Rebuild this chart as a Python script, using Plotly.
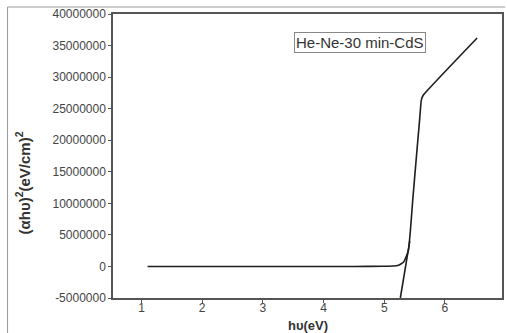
import plotly.graph_objects as go

# Measured curve: photon energy (eV) vs (alpha h nu)^2 ((eV/cm)^2)
curve_x = [1.10, 1.5, 2.0, 2.5, 3.0, 3.5, 4.0, 4.5, 5.0, 5.15, 5.234, 5.28, 5.316,
           5.357, 5.398, 5.431, 5.469, 5.539, 5.582, 5.610, 5.644, 6.53]
curve_y = [0, 0, 0, 0, 0, 0, 0, 0, 20000, 60000, 190000, 430000, 670000,
           1460000, 2570000, 5740000, 10500000, 18430000, 23190000, 26360000, 27160000, 36200000]

# Linear extrapolation line to the energy axis
fit_x = [5.265, 5.42]
fit_y = [-5000000, 4000000]

legend_text = "He-Ne-30 min-CdS"
x_title = "h\u03c5(eV)"
y_title = "(\u03b1h\u03c5)<sup>2</sup>(eV/cm)<sup>2</sup>"
y_ticks = [-5000000, 0, 5000000, 10000000, 15000000, 20000000, 25000000, 30000000, 35000000, 40000000]
y_tick_text = ["-5000000", "0", "5000000", "10000000", "15000000", "20000000",
               "25000000", "30000000", "35000000", "40000000"]
x_ticks = [1, 2, 3, 4, 5, 6]

FONT = "Arial, Liberation Sans, sans-serif"
LINE = "#1e1e1e"

fig = go.Figure()
fig.add_trace(go.Scatter(x=curve_x, y=curve_y, mode="lines",
                         line=dict(color=LINE, width=1.6, shape="spline", smoothing=0.3),
                         showlegend=False, hoverinfo="skip"))
fig.add_trace(go.Scatter(x=fit_x, y=fit_y, mode="lines",
                         line=dict(color=LINE, width=1.6),
                         showlegend=False, hoverinfo="skip"))

L, R, T, B = 113, 3, 14, 35
W, H = 507, 333
pw, ph = W - L - R, H - T - B

def px(x):
    return (x - L) / pw

def py(y):
    return (H - B - y) / ph

fig.update_layout(
    width=W, height=H,
    margin=dict(l=L, r=R, t=T, b=B),
    paper_bgcolor="white", plot_bgcolor="white",
    font=dict(family=FONT, size=12, color="#333"),
    xaxis=dict(range=[0.53, 6.94], tickmode="array", tickvals=x_ticks,
               showgrid=False, zeroline=False, showline=True, linecolor="#555", linewidth=1.5,
               mirror=True, ticks="outside", ticklen=3, tickcolor="#555",
               tickfont=dict(family=FONT, size=12, color="#444"), ticklabelstandoff=-5),
    yaxis=dict(range=[-5000000, 40000000], tickmode="array", tickvals=y_ticks,
               ticktext=y_tick_text, showgrid=False, zeroline=False, showline=True,
               linecolor="#555", linewidth=1.5, mirror=True, ticks="outside", ticklen=3,
               tickcolor="#555", tickfont=dict(family=FONT, size=12, color="#444"),
               ticklabelstandoff=0),
    annotations=[
        dict(text=legend_text, xref="paper", yref="paper", x=px(361.5), y=py(43),
             xanchor="center", yanchor="middle", showarrow=False,
             font=dict(family=FONT, size=15, color="#333"),
             bordercolor="#888", borderwidth=1, borderpad=1, bgcolor="white"),
        dict(text="<b>" + x_title + "</b>", xref="paper", yref="paper", x=px(309), y=py(325),
             xanchor="center", yanchor="middle", showarrow=False,
             font=dict(family=FONT, size=13, color="#333")),
        dict(text="<b>" + y_title + "</b>", xref="paper", yref="paper", x=px(22), y=py(183),
             xanchor="center", yanchor="middle", showarrow=False, textangle=-90,
             font=dict(family=FONT, size=15, color="#333")),
    ],
    shapes=[
        dict(type="line", xref="paper", yref="paper", x0=px(7), x1=px(507), y0=py(7), y1=py(7),
             line=dict(color="#999", width=1)),
        dict(type="line", xref="paper", yref="paper", x0=px(7), x1=px(7), y0=py(7), y1=py(333),
             line=dict(color="#999", width=1)),
    ],
)

fig.write_html("out.html")
